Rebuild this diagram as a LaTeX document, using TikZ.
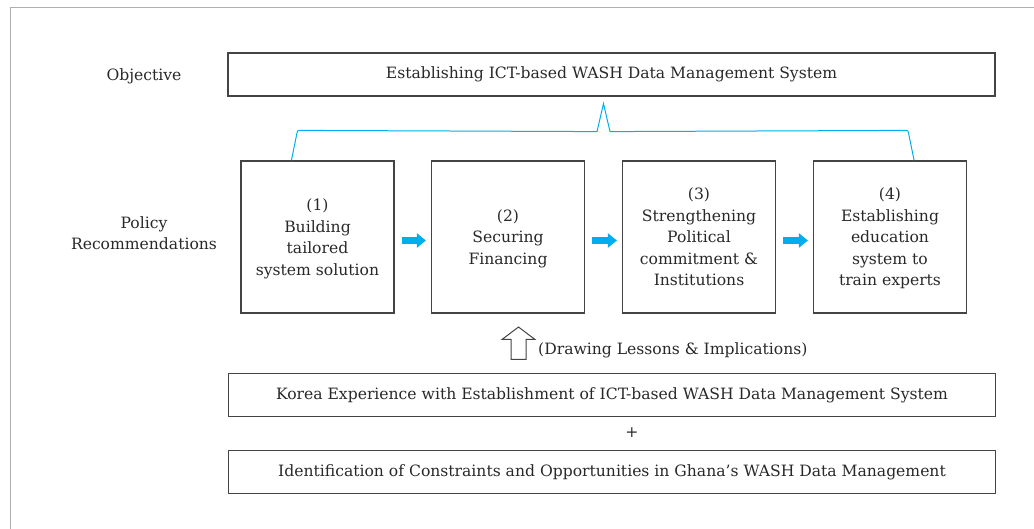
\documentclass[tikz,border=0pt]{standalone}
\usepackage{fontspec}
\setmainfont{DejaVu Serif}
\usetikzlibrary{arrows.meta,calc}
\definecolor{ink}{RGB}{40,40,40}
\definecolor{edge}{RGB}{68,68,68}
\definecolor{frame}{RGB}{175,175,175}
\definecolor{cyanblue}{RGB}{0,174,239}
\tikzset{
  txt/.style={text=ink, font=\fontsize{15.6}{21.5}\selectfont, align=center, inner sep=0pt},
  wide/.style={txt, draw=edge, line width=1.2pt, minimum width=767pt, minimum height=43pt},
  stepbox/.style={txt, text depth=-1pt, draw=edge, line width=1.2pt, minimum width=153pt, minimum height=152pt},
  flow/.style={cyanblue, line width=7pt, -{Triangle[length=9pt,width=14pt]}},
  brace/.style={cyanblue, line width=1pt},
}
\begin{document}
\begin{tikzpicture}[x=1pt,y=-1pt]
\useasboundingbox (0,0) rectangle (1034,529);
% open frame
\draw[frame, line width=1.3pt] (1034,7.5) -- (10.5,7.5) -- (10.5,529);

% objective row
\node[txt] (objlbl) at (144,76.5) {Objective};
\node[wide] (obj) at (611.5,74.5) {Establishing ICT-based WASH Data Management System};

% recommendation boxes
\node[txt] (pollbl) at (144,233) {Policy\\Recommendations};
\node[stepbox] (b1) at (317.5,237) {(1)\\Building\\tailored\\system solution};
\node[stepbox] (b2) at (508,237) {(2)\\Securing\\Financing};
\node[stepbox] (b3) at (699,237) {(3)\\Strengthening\\Political\\commitment \&\\Institutions};
\node[stepbox] (b4) at (890,237) {(4)\\Establishing\\education\\system to\\train experts};

% flow arrows
\draw[flow] ($(b1.east)+(7,3.5)$) -- ($(b2.west)+(-5,3.5)$);
\draw[flow] ($(b2.east)+(7,3.5)$) -- ($(b3.west)+(-5,3.5)$);
\draw[flow] ($(b3.east)+(7,3.5)$) -- ($(b4.west)+(-5,3.5)$);

% bracket joining the boxes to the objective
\coordinate (bl) at ($(b1.north west)+(51,0)$);
\coordinate (br) at ($(b4.north east)+(-53,0)$);
\coordinate (peak) at ($(obj.south)+(-8,7)$);
\draw[brace] (bl) -- ($(bl)+(5.3,-26)$) .. controls ($(bl)+(6,-30)$) .. ($(bl)+(9.5,-30)$)
  -- ($(peak)+(-6.5,28)$) -- (peak) -- ($(peak)+(6.5,28)$)
  -- ($(br)+(-9.5,-30)$) .. controls ($(br)+(-6,-30)$) .. ($(br)+(-5.3,-26)$) -- (br);

% lower boxes
\node[wide] (korea) at (612,395) {Korea Experience with Establishment of ICT-based WASH Data Management System};
\node[txt] (plus) at (632,433) {+};
\node[wide] (ghana) at (612,472) {Identification of Constraints and Opportunities in Ghana's WASH Data Management};

% hollow up arrow with its label
\node[txt, anchor=west] (lessons) at (538,350) {(Drawing Lessons \& Implications)};
\draw[edge, line width=1pt, line join=miter]
  (511,359.5) -- (511,339.5) -- (502,339.5) -- (518.5,327) -- (535,339.5) -- (526,339.5) -- (526,359.5) -- cycle;
\end{tikzpicture}
\end{document}
